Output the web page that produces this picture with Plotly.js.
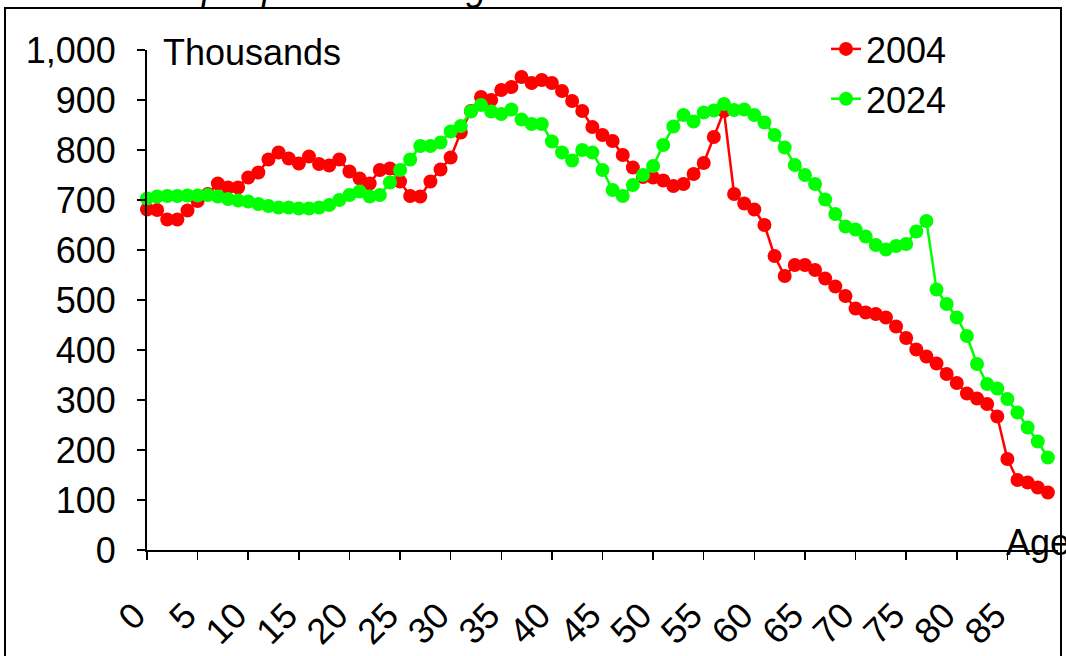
<!DOCTYPE html>
<html>
<head>
<meta charset="utf-8">
<script src="https://cdn.plot.ly/plotly-3.0.1.min.js"></script>
<style>html,body{margin:0;padding:0;background:#fff;}#chart{width:1066px;height:656px;}</style>
</head>
<body>
<div id="chart"></div>
<script>
const ages = [0,1,2,3,4,5,6,7,8,9,10,11,12,13,14,15,16,17,18,19,20,21,22,23,24,25,26,27,28,29,30,31,32,33,34,35,36,37,38,39,40,41,42,43,44,45,46,47,48,49,50,51,52,53,54,55,56,57,58,59,60,61,62,63,64,65,66,67,68,69,70,71,72,73,74,75,76,77,78,79,80,81,82,83,84,85,86,87,88,89];
const pop2004 = [681,680,661,661,679,698,712,733,725,725,745,755,781,795,783,773,787,772,769,781,757,743,733,760,763,737,708,707,737,761,785,835,878,906,900,920,926,946,934,940,934,918,898,878,846,830,818,790,765,746,745,739,728,732,752,774,826,878,712,693,681,650,588,548,570,570,560,543,527,508,483,475,472,465,447,424,401,387,373,352,334,313,303,292,267,182,140,135,125,115];
const pop2024 = [703,707,708,708,709,709,710,707,702,699,697,692,688,685,685,683,683,685,690,700,710,717,707,710,735,760,781,808,808,815,837,848,877,890,877,872,881,861,852,852,817,795,779,800,795,760,720,708,730,750,768,810,847,870,857,875,879,892,880,881,870,855,830,805,770,750,732,701,672,647,641,627,610,601,608,612,637,658,521,492,465,428,372,332,323,302,275,245,217,185];
const xTickVals = [0,5,10,15,20,25,30,35,40,45,50,55,60,65,70,75,80,85];
const xTickText = ['0','5','10','15','20','25','30','35','40','45','50','55','60','65','70','75','80','85'];
const seriesNames = ['2004','2024'];
const seriesColors = ['#FF0000','#00FF00'];

const W = 1066, H = 656;
const M = {l:147, r:8, t:50, b:106};
const pw = W - M.l - M.r, ph = H - M.t - M.b;
const px = v => (v - M.l) / pw;
const py = v => (H - M.b - v) / ph;
const FONT = 'Liberation Sans, Arial, sans-serif';
const FS = 36;

const traces = [pop2004, pop2024].map((vals, i) => ({
  type: 'scatter', mode: 'lines+markers',
  x: ages, y: vals, name: seriesNames[i],
  legendgroup: 'g' + i,
  line: {color: seriesColors[i], width: 2.5},
  marker: {color: seriesColors[i], size: 14, symbol: 'circle'},
  cliponaxis: false
}));

const layout = {
  width: W, height: H,
  margin: M,
  paper_bgcolor: '#ffffff', plot_bgcolor: '#ffffff',
  font: {family: FONT, size: FS, color: '#000'},
  showlegend: true,
  legend: {
    x: px(826), y: py(19), xanchor: 'left', yanchor: 'top',
    bgcolor: 'rgba(0,0,0,0)', borderwidth: 0,
    font: {family: FONT, size: FS, color: '#000'},
    traceorder: 'grouped', tracegroupgap: 0
  },
  xaxis: {
    range: [0, 90], showgrid: false, zeroline: false,
    showline: true, linecolor: '#000', linewidth: 2,
    ticks: 'outside', ticklen: 8, tickwidth: 1.5, tickcolor: '#000',
    tickmode: 'array', tickvals: xTickVals, ticktext: xTickText,
    tickangle: -45, ticklabelstandoff: 20, ticklabelshift: -12,
    tickfont: {family: FONT, size: FS, color: '#000'}
  },
  yaxis: {
    range: [0, 1000], dtick: 100, tick0: 0, tickformat: ',',
    showgrid: false, zeroline: false,
    showline: true, linecolor: '#000', linewidth: 2,
    ticks: 'outside', ticklen: 8, tickwidth: 1.5, tickcolor: '#000',
    ticklabelstandoff: 14,
    tickfont: {family: FONT, size: FS, color: '#000'}
  },
  shapes: [{
    type: 'rect', xref: 'paper', yref: 'paper',
    x0: px(5), x1: px(1061), y0: py(700), y1: py(8),
    line: {color: '#000', width: 2}, fillcolor: 'rgba(0,0,0,0)', layer: 'above'
  }],
  annotations: [
    {text: 'Thousands', xref: 'paper', yref: 'paper', x: px(161), y: py(52),
     xanchor: 'left', yanchor: 'middle', showarrow: false,
     font: {family: FONT, size: FS, color: '#000'}},
    {text: 'Age', xref: 'paper', yref: 'paper', x: px(1004), y: py(542),
     xanchor: 'left', yanchor: 'middle', showarrow: false,
     font: {family: FONT, size: FS, color: '#000'}},
    {text: '<i>Number of people in each age cohort</i>', xref: 'paper', yref: 'paper',
     x: px(22), y: py(10), xanchor: 'left', yanchor: 'bottom', showarrow: false,
     font: {family: FONT, size: FS, color: '#000'}}
  ]
};

Plotly.newPlot('chart', traces, layout, {displayModeBar: false, staticPlot: true});
</script>
</body>
</html>
